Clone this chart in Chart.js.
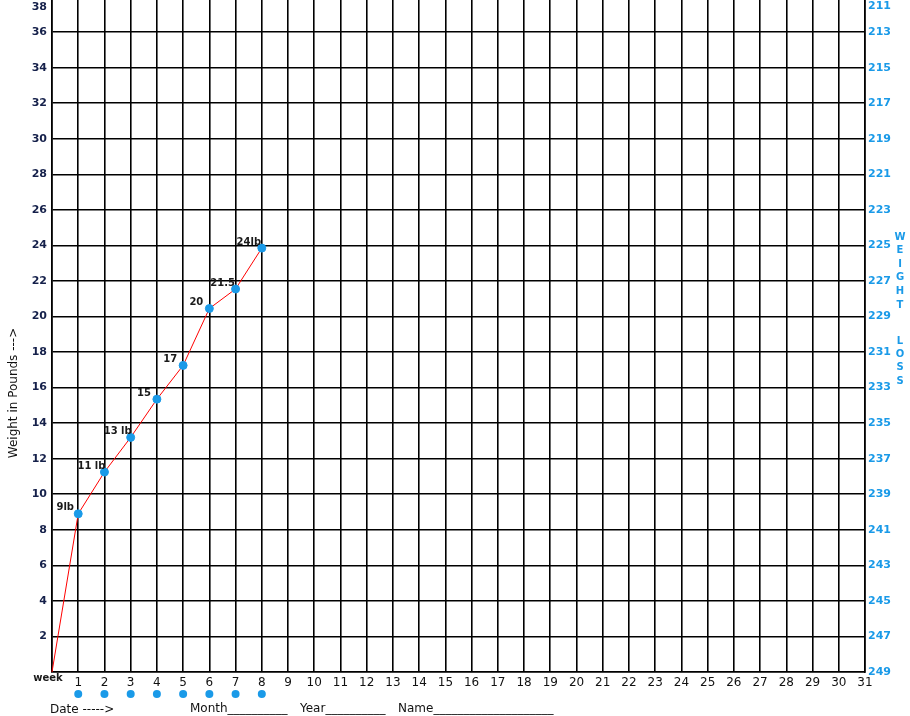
<!DOCTYPE html>
<html>
<head>
<meta charset="utf-8">
<script src="https://cdn.jsdelivr.net/npm/chart.js@4"></script>
<style>
  html, body { margin: 0; padding: 0; background: #fff; overflow: hidden; }
  #page { width: 910px; height: 716px; position: relative; overflow: hidden; }
  /* canvas pushed up a little so the grid starts above the top edge */
  #wrap { width: 910px; height: 731px; position: absolute; left: 0; top: -15px; }
</style>
</head>
<body>
<div id="page"><div id="wrap"><canvas id="myChart"></canvas></div></div>
<script>
// x categories: 0 = start ("week"), then days 1..31
const weeks = ['', '1','2','3','4','5','6','7','8','9','10','11','12','13','14','15','16','17','18','19','20','21','22','23','24','25','26','27','28','29','30','31'];
// plotted weights (as drawn) and the labels written beside them
const weights = [0, 8.9, 11.25, 13.2, 15.35, 17.25, 20.45, 21.55, 23.85];
const pointLabels = ['', '9lb', '11 lb', '13 lb', '15', '17', '20', '21.5', '24lb'];
const leftTicks = [2,4,6,8,10,12,14,16,18,20,22,24,26,28,30,32,34,36,38];
const rightTicks = ['249','247','245','243','241','239','237','235','233','231','229','227','225','223','221','219','217','215','213','211'];
const dateDots = [1,2,3,4,5,6,7,8];

const blue = '#1a9ae8';
const ink = '#15204a';
const shift = 15; // canvas offset against the page

const extras = {
  id: 'extras',
  afterDatasetsDraw(chart) {
    const ctx = chart.ctx;
    const meta = chart.getDatasetMeta(0);
    ctx.save();
    ctx.font = 'bold 10px "DejaVu Sans"';
    ctx.fillStyle = '#1a1a1a';
    ctx.textAlign = 'center';
    ctx.textBaseline = 'middle';
    meta.data.forEach((p, i) => {
      if (!pointLabels[i]) return;
      ctx.fillText(pointLabels[i], p.x - 13, p.y - 6);
    });
    ctx.restore();
  },
  afterDraw(chart) {
    const ctx = chart.ctx;
    const x = chart.scales.x;
    const area = chart.chartArea;
    ctx.save();
    // top tick labels (kept inside the page like the original)
    ctx.font = 'bold 11px "DejaVu Sans"';
    ctx.textBaseline = 'middle';
    ctx.fillStyle = ink;
    ctx.textAlign = 'right';
    ctx.fillText('38', 47, 7 + shift);
    ctx.fillStyle = blue;
    ctx.textAlign = 'left';
    ctx.fillText('211', area.right + 3, 6 + shift);
    // y title
    ctx.save();
    ctx.translate(14, 393 + shift);
    ctx.rotate(-Math.PI / 2);
    ctx.font = '12px "DejaVu Sans"';
    ctx.fillStyle = '#111';
    ctx.textAlign = 'center';
    ctx.fillText('Weight in Pounds --->', 0, 0);
    ctx.restore();
    // "week" under origin
    ctx.font = 'bold 10px "DejaVu Sans"';
    ctx.fillStyle = '#1a1a1a';
    ctx.textAlign = 'center';
    ctx.fillText('week', area.left - 4, area.bottom + 6);
    // blue dots under the first dates
    ctx.fillStyle = blue;
    dateDots.forEach(d => {
      ctx.beginPath();
      ctx.arc(x.getPixelForValue(d), area.bottom + 22, 4, 0, Math.PI * 2);
      ctx.fill();
    });
    // footer line
    ctx.font = '12px "DejaVu Sans"';
    ctx.fillStyle = '#111';
    ctx.textAlign = 'left';
    ctx.textBaseline = 'alphabetic';
    ctx.fillText('Date ----->', 50, 713 + shift);
    ctx.fillText('Month__________', 190, 712 + shift);
    ctx.fillText('Year__________', 300, 712 + shift);
    ctx.fillText('Name____________________', 398, 712 + shift);
    // WEIGHT LOSS down the right edge
    ctx.font = 'bold 10px "DejaVu Sans"';
    ctx.fillStyle = blue;
    ctx.textAlign = 'center';
    ctx.textBaseline = 'middle';
    'WEIGHT'.split('').forEach((c, i) => ctx.fillText(c, 900, 237 + shift + i * 13.6));
    'LOSS'.split('').forEach((c, i) => ctx.fillText(c, 900, 341 + shift + i * 13.4));
    ctx.restore();
  }
};

new Chart(document.getElementById('myChart'), {
  type: 'line',
  data: {
    labels: weeks,
    datasets: [{
      data: weights,
      borderColor: '#ff0000',
      borderWidth: 1,
      pointRadius: weights.map((v, i) => i === 0 ? 0 : 4),
      pointBackgroundColor: blue,
      pointBorderColor: blue,
      tension: 0
    }]
  },
  options: {
    responsive: true,
    maintainAspectRatio: false,
    animation: false,
    layout: { padding: 0 },
    plugins: { legend: { display: false }, tooltip: { enabled: false } },
    scales: {
      x: {
        offset: false,
        grid: { color: '#000', lineWidth: 1.6, drawTicks: false },
        border: { color: '#000', width: 1.6 },
        ticks: {
          color: '#111',
          font: { family: 'DejaVu Sans', size: 12 },
          padding: 4,
          maxRotation: 0,
          autoSkip: false
        },
        afterFit(s) { s.height = 44; }
      },
      y: {
        min: 0,
        max: 38,
        afterBuildTicks(s) { s.ticks = [0].concat(leftTicks).map(v => ({ value: v })); },
        grid: {
          color: c => c.tick && c.tick.value === 38 ? 'rgba(0,0,0,0)' : '#000',
          lineWidth: 1.6,
          drawTicks: false
        },
        border: { color: '#000', width: 1.6 },
        ticks: {
          color: ink,
          font: { family: 'DejaVu Sans', size: 11, weight: 'bold' },
          padding: 5,
          callback: v => (v === 0 || v === 38) ? '' : v
        },
        afterFit(s) { s.width = 52; }
      },
      y2: {
        position: 'right',
        min: 0,
        max: 38,
        afterBuildTicks(s) { s.ticks = rightTicks.map((t, i) => ({ value: i * 2 })); },
        grid: { display: false, drawTicks: false },
        border: { color: '#000', width: 1.6 },
        ticks: {
          color: blue,
          font: { family: 'DejaVu Sans', size: 11, weight: 'bold' },
          padding: 3,
          callback: (v, i) => i === rightTicks.length - 1 ? '' : rightTicks[i]
        },
        afterFit(s) { s.width = 45; }
      }
    }
  },
  plugins: [extras]
});
</script>
</body>
</html>
